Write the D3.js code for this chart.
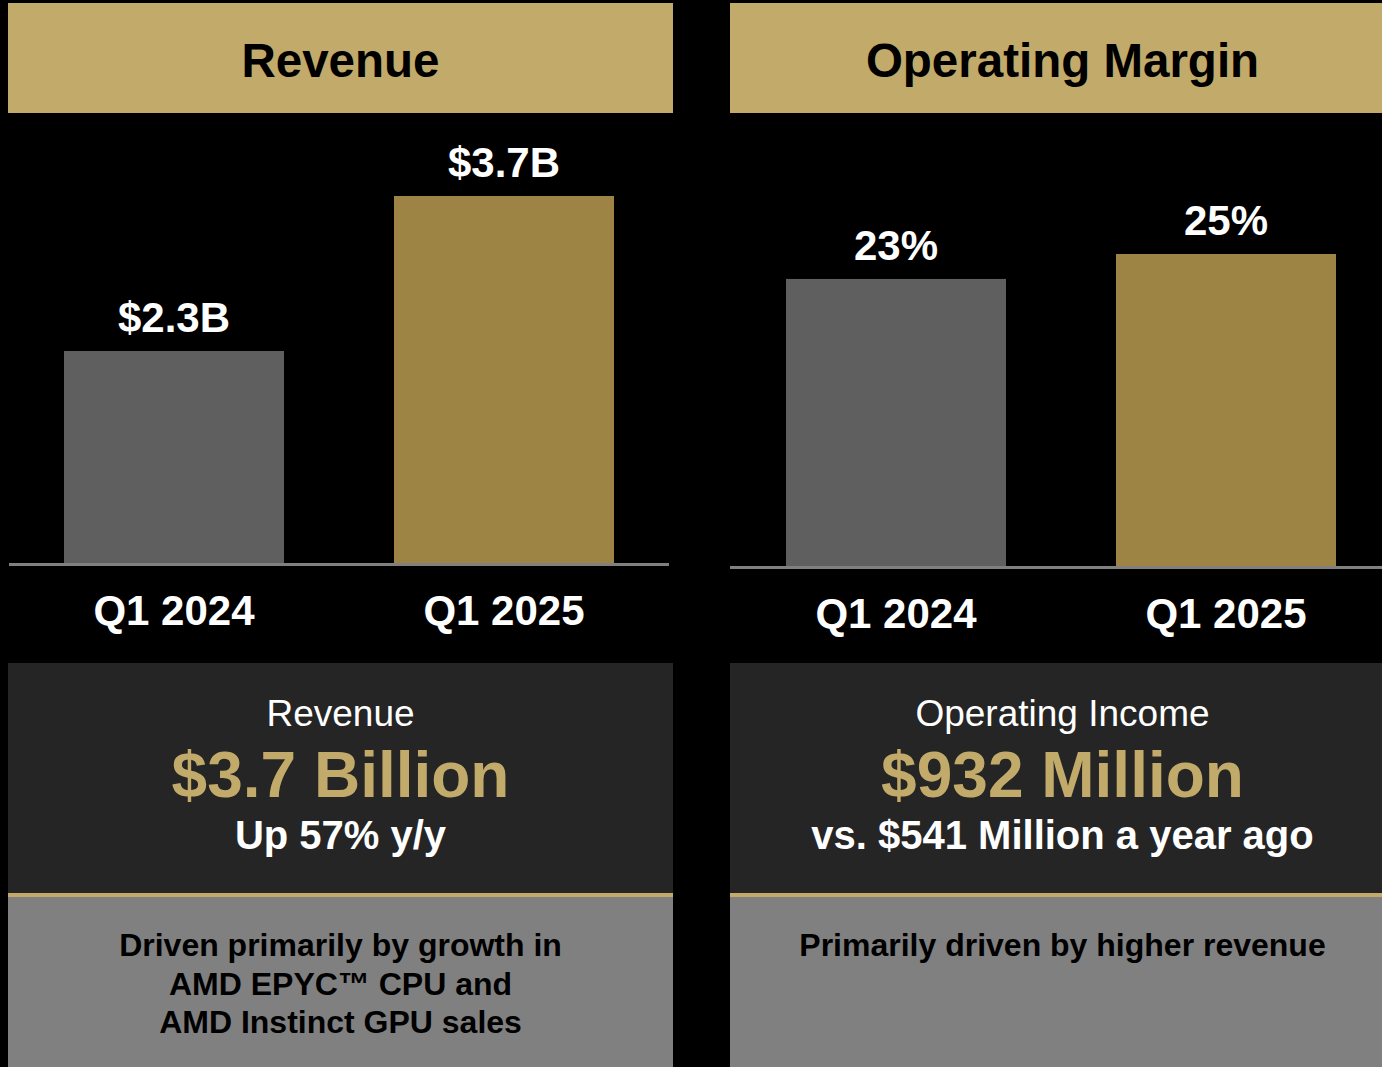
<!DOCTYPE html>
<html>
<head>
<meta charset="utf-8">
<script src="https://cdn.jsdelivr.net/npm/d3@7"></script>
<style>
  html, body { margin: 0; padding: 0; background: #000; }
  svg { display: block; }
  text { font-family: "Liberation Sans", Arial, sans-serif; }
</style>
</head>
<body>
<svg id="chart" width="1382" height="1067"></svg>
<script>
// ---- data ----
const panelTitles = ["Revenue", "Operating Margin"];
const categories = ["Q1 2024", "Q1 2025"];
const revenueValues = [2.3, 3.7];
const revenueLabels = ["$2.3B", "$3.7B"];
const marginValues = [23, 25];
const marginLabels = ["23%", "25%"];
const summaryHeadings = ["Revenue", "Operating Income"];
const summaryValues = ["$3.7 Billion", "$932 Million"];
const summaryNotes = ["Up 57% y/y", "vs. $541 Million a year ago"];
const driverLines = [
  ["Driven primarily by growth in", "AMD EPYC\u2122 CPU and", "AMD Instinct GPU sales"],
  ["Primarily driven by higher revenue"]
];

// ---- style ----
const GOLD_LIGHT = "#c2aa6a";
const GOLD_BAR = "#9e8444";
const GRAY_BAR = "#5f5f5f";
const DARK = "#252525";
const MID = "#808080";
const barColors = [GRAY_BAR, GOLD_BAR];

const svg = d3.select("#chart");
svg.append("rect").attr("width", 1382).attr("height", 1067).attr("fill", "#000");

const panelW = 665;
const panels = [
  { x: 8, values: revenueValues, labels: revenueLabels, base: 563,
    y: d3.scaleLinear().domain([0.385, 3.7]).range([563, 196]) },
  { x: 730, values: marginValues, labels: marginLabels, base: 566,
    y: d3.scaleLinear().domain([0, 25]).range([566, 254]) }
];

panels.forEach((p, i) => {
  const g = svg.append("g");
  const cx = p.x + panelW / 2;

  // header
  g.append("rect").attr("x", p.x).attr("y", 3).attr("width", panelW).attr("height", 110)
    .attr("fill", GOLD_LIGHT);
  g.append("text").attr("x", cx).attr("y", 77).attr("text-anchor", "middle")
    .attr("font-size", 47.5).attr("font-weight", "bold").attr("fill", "#000")
    .text(panelTitles[i]);

  // bars
  const x = d3.scaleBand().domain(categories)
    .range([p.x + 1, p.x + 661]).paddingInner(1 / 3).paddingOuter(1 / 6);

  g.selectAll("rect.bar").data(categories).enter().append("rect")
    .attr("class", "bar")
    .attr("x", d => x(d))
    .attr("width", x.bandwidth())
    .attr("y", (d, j) => p.y(p.values[j]))
    .attr("height", (d, j) => p.base - p.y(p.values[j]))
    .attr("fill", (d, j) => barColors[j]);

  g.selectAll("text.val").data(categories).enter().append("text")
    .attr("class", "val")
    .attr("x", d => x(d) + x.bandwidth() / 2)
    .attr("y", (d, j) => p.y(p.values[j]) - 19)
    .attr("text-anchor", "middle").attr("font-size", 42).attr("font-weight", "bold")
    .attr("fill", "#fff")
    .text((d, j) => p.labels[j]);

  // baseline
  g.append("line")
    .attr("x1", i === 0 ? p.x + 1 : p.x).attr("x2", i === 0 ? p.x + 661 : 1382)
    .attr("y1", p.base + 1.5).attr("y2", p.base + 1.5)
    .attr("stroke", MID).attr("stroke-width", 3);

  // category labels
  g.selectAll("text.cat").data(categories).enter().append("text")
    .attr("class", "cat")
    .attr("x", d => x(d) + x.bandwidth() / 2)
    .attr("y", p.base + 62)
    .attr("text-anchor", "middle").attr("font-size", 42).attr("font-weight", "bold")
    .attr("fill", "#fff")
    .text(d => d);

  // summary panel
  g.append("rect").attr("x", p.x).attr("y", 663).attr("width", panelW).attr("height", 230)
    .attr("fill", DARK);
  g.append("rect").attr("x", p.x).attr("y", 893).attr("width", panelW).attr("height", 4)
    .attr("fill", GOLD_LIGHT);
  g.append("rect").attr("x", p.x).attr("y", 897).attr("width", panelW).attr("height", 175)
    .attr("fill", MID);

  g.append("text").attr("x", cx).attr("y", 726).attr("text-anchor", "middle")
    .attr("font-size", 37).attr("fill", "#fff").text(summaryHeadings[i]);
  g.append("text").attr("x", cx).attr("y", 797).attr("text-anchor", "middle")
    .attr("font-size", 64).attr("font-weight", "bold").attr("fill", GOLD_LIGHT)
    .text(summaryValues[i]);
  g.append("text").attr("x", cx).attr("y", 849).attr("text-anchor", "middle")
    .attr("font-size", 40).attr("font-weight", "bold").attr("fill", "#fff")
    .text(summaryNotes[i]);

  g.selectAll("text.drv").data(driverLines[i]).enter().append("text")
    .attr("class", "drv")
    .attr("x", cx).attr("y", (d, j) => 956 + j * 38.5)
    .attr("text-anchor", "middle").attr("font-size", 32).attr("font-weight", "bold")
    .attr("fill", "#000")
    .text(d => d);
});
</script>
</body>
</html>
